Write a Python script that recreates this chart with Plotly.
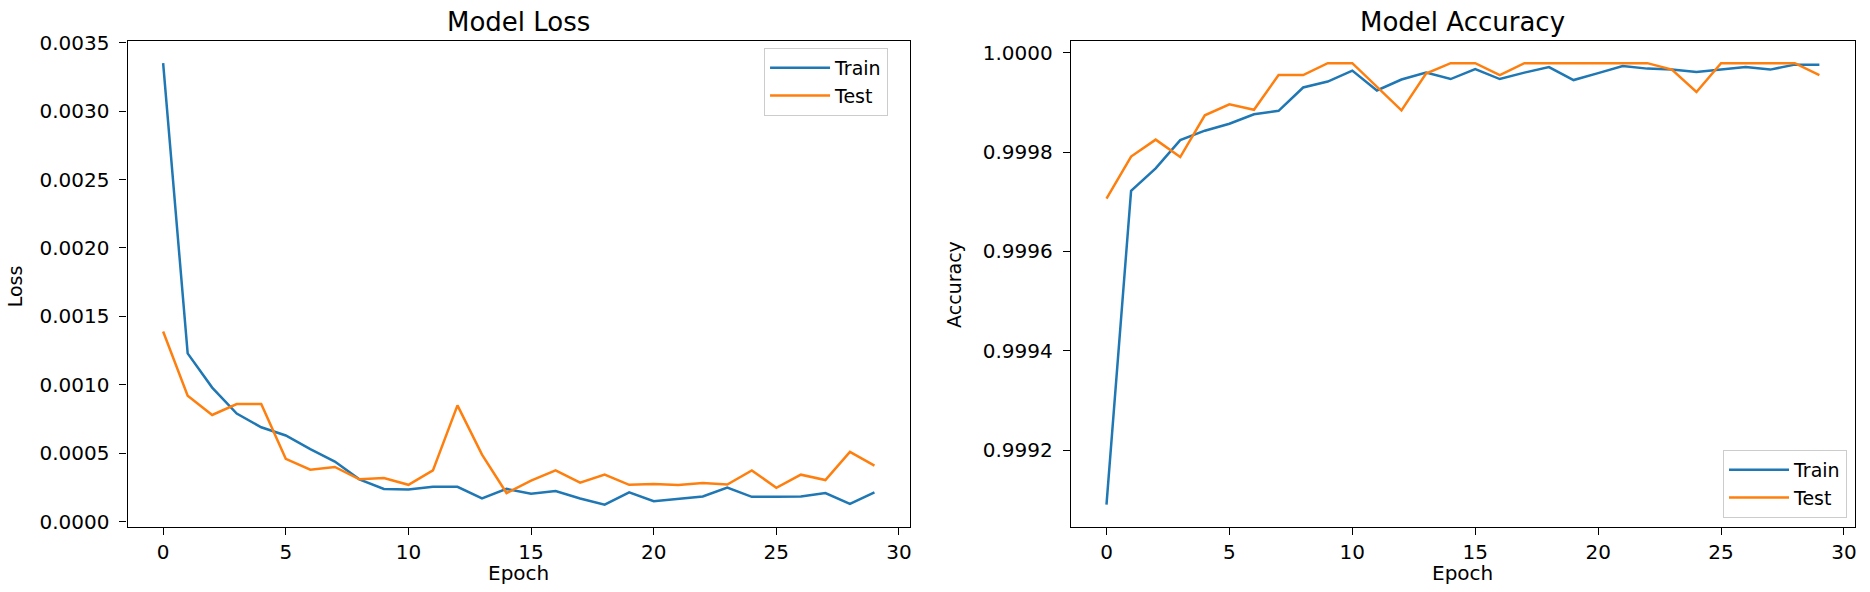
import plotly.graph_objects as go

epochs = list(range(30))
train_loss = [0.00335, 0.00123, 0.00098, 0.00079, 0.00069, 0.00063, 0.00053, 0.00044, 0.00031, 0.00024,
              0.000235, 0.000255, 0.000255, 0.00017, 0.00024, 0.000205, 0.000225, 0.00017, 0.000125, 0.000215,
              0.00015, 0.000165, 0.000185, 0.00025, 0.000182, 0.000182, 0.000185, 0.00021, 0.00013, 0.000215]
test_loss = [0.00139, 0.00092, 0.00078, 0.00086, 0.00086, 0.00046, 0.00038, 0.00040, 0.00031, 0.00032,
             0.00027, 0.000375, 0.00085, 0.00049, 0.00021, 0.00030, 0.000375, 0.000285, 0.000345, 0.00027,
             0.000275, 0.000268, 0.000284, 0.000272, 0.000375, 0.000248, 0.000344, 0.000305, 0.00051, 0.00041]
train_acc = [0.99909, 0.999722, 0.999767, 0.999824, 0.999843, 0.999857, 0.999876, 0.999883, 0.99993, 0.999942,
             0.999964, 0.999924, 0.999946, 0.99996, 0.999947, 0.999967, 0.999947, 0.99996, 0.999971, 0.999945,
             0.999959, 0.999973, 0.999968, 0.999966, 0.999961, 0.999966, 0.999971, 0.999966, 0.999976, 0.999976]
test_acc = [0.999706, 0.999791, 0.999825, 0.99979, 0.999874, 0.999896, 0.999885, 0.999955, 0.999955, 0.999979,
            0.999979, 0.999932, 0.999884, 0.999958, 0.999979, 0.999979, 0.999955, 0.999979, 0.999979, 0.999979,
            0.999979, 0.999979, 0.999979, 0.999966, 0.999921, 0.999979, 0.999979, 0.999979, 0.999979, 0.999955]

loss_ticks = [0.0, 0.0005, 0.0010, 0.0015, 0.0020, 0.0025, 0.0030, 0.0035]
acc_ticks = [0.9992, 0.9994, 0.9996, 0.9998, 1.0000]
epoch_ticks = [0, 5, 10, 15, 20, 25, 30]

W, H = 1870, 592
BLUE, ORANGE = "#1f77b4", "#ff7f0e"
FONT = "DejaVu Sans"
TICK = 20


def px(v):
    return v / W


def py(v):
    return 1 - v / H


def pad_range(*series):
    lo = min(min(s) for s in series)
    hi = max(max(s) for s in series)
    m = 0.05 * (hi - lo)
    return [lo - m, hi + m]


xr = [min(epochs) - 0.05 * (max(epochs) - min(epochs)), max(epochs) + 0.05 * (max(epochs) - min(epochs))]

fig = go.Figure()
fig.add_trace(go.Scatter(x=epochs, y=train_loss, mode="lines", name="Train",
                         line=dict(color=BLUE, width=2.5), xaxis="x", yaxis="y", legend="legend"))
fig.add_trace(go.Scatter(x=epochs, y=test_loss, mode="lines", name="Test",
                         line=dict(color=ORANGE, width=2.5), xaxis="x", yaxis="y", legend="legend"))
fig.add_trace(go.Scatter(x=epochs, y=train_acc, mode="lines", name="Train",
                         line=dict(color=BLUE, width=2.5), xaxis="x2", yaxis="y2", legend="legend2"))
fig.add_trace(go.Scatter(x=epochs, y=test_acc, mode="lines", name="Test",
                         line=dict(color=ORANGE, width=2.5), xaxis="x2", yaxis="y2", legend="legend2"))

ax_common = dict(showline=True, linecolor="black", linewidth=1.3, mirror=True, showgrid=False,
                 zeroline=False, ticks="outside", ticklen=7, tickwidth=1.3, tickcolor="black",
                 tickfont=dict(family=FONT, size=TICK, color="black"))

xd1 = [px(127.7), px(911)]
xd2 = [px(1072), px(1857)]
yd = [py(532), py(32)]

leg_common = dict(bgcolor="rgba(255,255,255,0.8)", bordercolor="#cccccc", borderwidth=1,
                  itemwidth=60, font=dict(family=FONT, size=19, color="black"))

fig.update_layout(
    width=W, height=H,
    margin=dict(l=0, r=0, t=0, b=0),
    paper_bgcolor="white", plot_bgcolor="white",
    font=dict(family=FONT, color="black"),
    xaxis=dict(domain=xd1, range=xr, tickvals=epoch_ticks, anchor="y", **ax_common),
    yaxis=dict(domain=yd, range=pad_range(train_loss, test_loss), tickvals=loss_ticks,
               tickformat=".4f", anchor="x", ticklabelstandoff=6, **ax_common),
    xaxis2=dict(domain=xd2, range=xr, tickvals=epoch_ticks, anchor="y2", **ax_common),
    yaxis2=dict(domain=yd, range=pad_range(train_acc, test_acc), tickvals=acc_ticks,
                tickformat=".4f", anchor="x2", ticklabelstandoff=6, **ax_common),
    legend=dict(x=px(889), y=py(39), xanchor="right", yanchor="top", **leg_common),
    legend2=dict(x=px(1849), y=py(523), xanchor="right", yanchor="bottom", **leg_common),
    showlegend=True,
)

ann = []
for txt, xd in (("Model Loss", xd1), ("Model Accuracy", xd2)):
    ann.append(dict(text=txt, x=(xd[0] + xd[1]) / 2, y=py(12), xref="paper", yref="paper",
                    showarrow=False, xanchor="center", yanchor="middle", font=dict(family=FONT, size=26)))
    ann.append(dict(text="Epoch", x=(xd[0] + xd[1]) / 2, y=py(580), xref="paper", yref="paper",
                    showarrow=False, xanchor="center", yanchor="middle", font=dict(family=FONT, size=20)))
ann.append(dict(text="Loss", x=px(14.5), y=py(284), xref="paper", yref="paper", textangle=-90,
                showarrow=False, xanchor="center", yanchor="middle", font=dict(family=FONT, size=19)))
ann.append(dict(text="Accuracy", x=px(955), y=py(282), xref="paper", yref="paper", textangle=-90,
                showarrow=False, xanchor="center", yanchor="middle", font=dict(family=FONT, size=19)))
fig.update_layout(annotations=ann)

fig.write_html("out.html", config={"displayModeBar": False},
               post_script="document.body.style.margin='0px';")
